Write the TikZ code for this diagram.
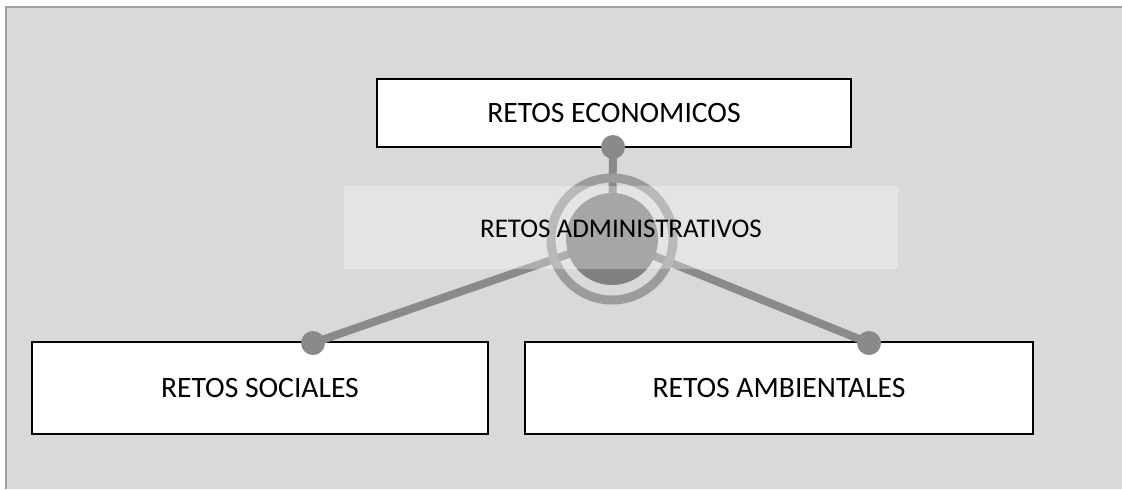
\documentclass[tikz,border=0pt]{standalone}
\usepackage{fontspec}
\setmainfont{Carlito}
\tikzset{
  retobox/.style={draw=black,line width=1pt,fill=white,inner sep=0pt},
  spoke/.style={draw=spokegray,line width=4pt},
  dotnode/.style={circle,fill=spokegray,inner sep=0pt,minimum size=12pt},
}
\definecolor{bggray}{HTML}{D9D9D9}
\definecolor{framegray}{HTML}{A0A0A0}
\definecolor{spokegray}{HTML}{8A8A8A}
\definecolor{ringgray}{HTML}{9C9C9C}
\definecolor{hubgray}{HTML}{808080}
\begin{document}
\begin{tikzpicture}[x=0.5pt,y=-0.5pt,font=\fontsize{14.8}{18}\selectfont]
\useasboundingbox (0,0) rectangle (1122,489);
% background
\fill[bggray] (6,7) rectangle (1122,489);
\draw[framegray,line width=1pt] (6,489) -- (6,7) -- (1122,7);
% boxes
\node[retobox,minimum width=237pt,minimum height=34pt] (eco) at (614,113) {RETOS ECONOMICOS};
\node[retobox,minimum width=228pt,minimum height=46pt] (soc) at (260,388) {RETOS SOCIALES};
\node[retobox,minimum width=254pt,minimum height=46pt] (amb) at (779,388) {RETOS AMBIENTALES};
% hub and spokes
\coordinate (hub) at (612,239);
\coordinate (ecodot) at (613,147);
\coordinate (socdot) at (313,343);
\coordinate (ambdot) at (869,343);
\draw[spoke] (hub) -- (ecodot);
\draw[spoke] (hub) -- (socdot);
\draw[spoke] (hub) -- (ambdot);
\node[dotnode] (ecoend) at (ecodot) {};
\node[dotnode] (socend) at (socdot) {};
\node[dotnode] (ambend) at (ambdot) {};
\draw[ringgray,line width=4.5pt] (hub) circle[radius=30.5pt];
\fill[hubgray] (hub) circle[radius=23pt];
% band with title
\fill[white,opacity=0.3] (344,186) rectangle (898,269);
\node[font=\fontsize{13.5}{16}\selectfont] (admin) at (621,229) {RETOS ADMINISTRATIVOS};
\end{tikzpicture}
\end{document}
